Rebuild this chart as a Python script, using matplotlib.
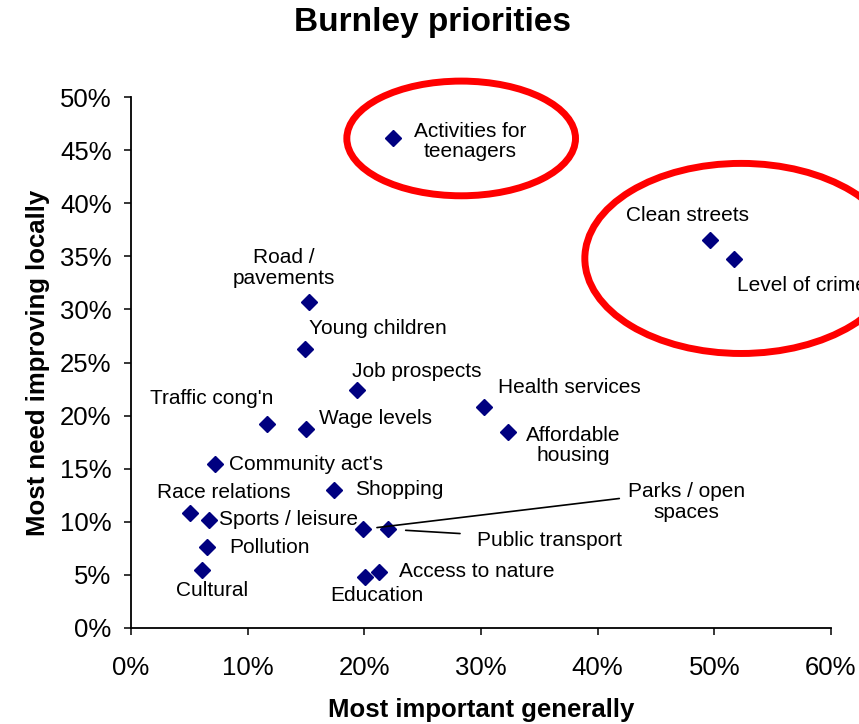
import matplotlib
matplotlib.use("Agg")
import matplotlib.pyplot as plt
from matplotlib.patches import Ellipse
from matplotlib.ticker import PercentFormatter

plt.rcParams['font.family'] = ['Liberation Sans', 'DejaVu Sans']

# data: % most important generally (x), % most need improving locally (y)
labels = ["Activities for\nteenagers", "Clean streets", "Level of crime",
          "Road /\npavements", "Young children", "Job prospects",
          "Health services", "Affordable\nhousing", "Traffic cong'n",
          "Wage levels", "Community act's", "Shopping", "Race relations",
          "Sports / leisure", "Parks / open\nspaces", "Public transport",
          "Pollution", "Cultural", "Education", "Access to nature"]
important = [22.5, 49.6, 51.7, 15.3, 14.9, 19.4, 30.3, 32.3, 11.7, 15.0,
             7.2, 17.4, 5.1, 6.7, 19.9, 22.0, 6.5, 6.1, 20.1, 21.3]
improving = [46.1, 36.5, 34.7, 30.7, 26.3, 22.4, 20.8, 18.5, 19.2, 18.7,
             15.4, 13.0, 10.8, 10.2, 9.3, 9.3, 7.6, 5.5, 4.8, 5.3]

# label offsets in pixels (dx, dy) and alignment
offsets = [(77, -3, 'center'), (-22, 25, 'center'), (3, -26, 'left'),
           (-26, 34, 'center'), (4, 20, 'left'), (-5, 19, 'left'),
           (14, 20, 'left'), (65, -14, 'center'), (-56, 26, 'center'),
           (13, 11, 'left'), (14, 0, 'left'), (21, 0, 'left'),
           (33, 21, 'center'), (10, 0, 'left'), (323, 27, 'center'),
           (89, -11, 'left'), (22, 0, 'left'), (10, -21, 'center'),
           (11, -18, 'center'), (20, 0, 'left')]

fig = plt.figure(figsize=(8.59, 7.24), dpi=100)
ax = fig.add_axes([0.1525, 0.1326, 0.8149, 0.7334])

ax.plot(important, improving, 'D', color='#000080', markersize=8, ls='none',
        zorder=3)

for i in range(len(labels)):
    dx, dy, ha = offsets[i]
    arrow = None
    if labels[i].startswith("Parks"):
        arrow = dict(arrowstyle='-', color='black', lw=1.2, relpos=(0.0, 0.62),
                     shrinkA=4, shrinkB=10)
    if labels[i] == "Public transport":
        arrow = dict(arrowstyle='-', color='black', lw=1.2, relpos=(0.0, 0.8),
                     shrinkA=10, shrinkB=13)
    ax.annotate(labels[i], xy=(important[i], improving[i]), xytext=(dx, dy),
                textcoords='offset pixels', ha=ha, va='center', fontsize=15,
                linespacing=1.1, arrowprops=arrow, annotation_clip=False)

# red ellipses highlighting the groups
ax.add_patch(Ellipse((28.3, 46.1), 19.6, 10.8, fill=False, ec='#ff0000',
                     lw=5, clip_on=False))
ax.add_patch(Ellipse((52.3, 34.8), 26.8, 17.9, fill=False, ec='#ff0000',
                     lw=5, clip_on=False))

ax.set_xlim(0, 60)
ax.set_ylim(0, 50)
ax.set_xticks(range(0, 61, 10))
ax.set_yticks(range(0, 51, 5))
ax.xaxis.set_major_formatter(PercentFormatter(decimals=0))
ax.yaxis.set_major_formatter(PercentFormatter(decimals=0))
ax.spines['top'].set_visible(False)
ax.spines['right'].set_visible(False)
ax.spines['left'].set_linewidth(1.3)
ax.spines['bottom'].set_linewidth(1.3)
ax.tick_params(axis='both', labelsize=18.5, length=5, width=1.1, direction='out')
ax.tick_params(axis='x', pad=15)
ax.tick_params(axis='y', pad=9)

ax.set_xlabel("Most important generally", fontsize=18.5, fontweight='bold',
              labelpad=13)
ax.set_ylabel("Most need improving locally", fontsize=18.5, fontweight='bold',
              labelpad=7)
fig.text(0.503, 0.969, "Burnley priorities", ha='center', va='center',
         fontsize=24, fontweight='bold')

fig.savefig("out.png", dpi=100)
